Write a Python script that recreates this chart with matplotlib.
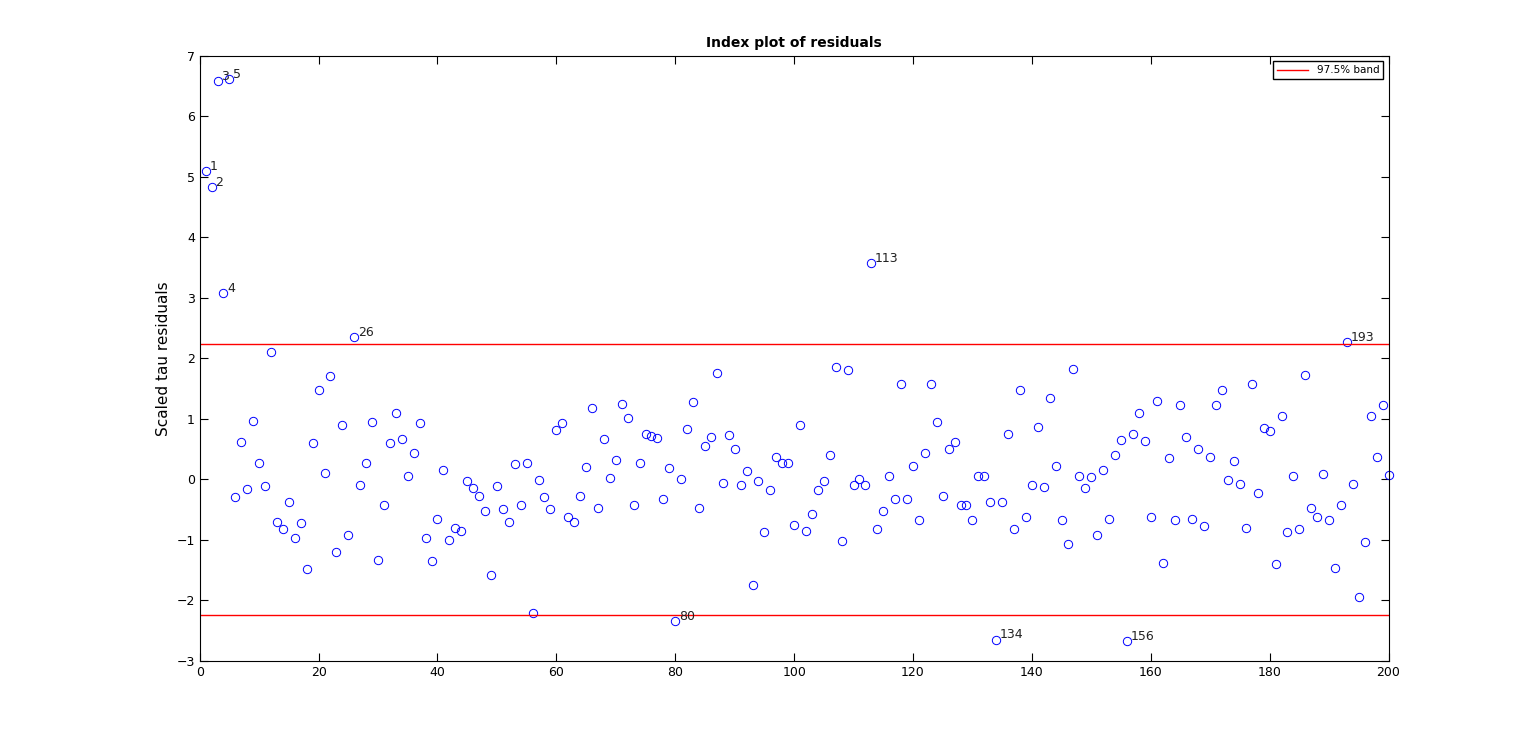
import numpy as np
import matplotlib.pyplot as plt

resid = [5.1, 4.83, 6.58, 3.08, 6.62, -0.3, 0.62, -0.17, 0.97, 0.26,
         -0.12, 2.1, -0.7, -0.83, -0.38, -0.98, -0.73, -1.48, 0.6, 1.48,
         0.1, 1.7, -1.2, 0.9, -0.93, 2.35, -0.1, 0.27, 0.95, -1.33,
         -0.43, 0.6, 1.1, 0.66, 0.05, 0.43, 0.93, -0.98, -1.35, -0.65,
         0.16, -1.0, -0.8, -0.85, -0.03, -0.15, -0.27, -0.52, -1.58, -0.12,
         -0.5, -0.7, 0.25, -0.43, 0.27, -2.22, -0.02, -0.3, -0.5, 0.82,
         0.93, -0.63, -0.7, -0.28, 0.2, 1.17, -0.47, 0.67, 0.02, 0.32,
         1.25, 1.02, -0.42, 0.26, 0.75, 0.72, 0.68, -0.33, 0.18, -2.35,
         0.0, 0.83, 1.28, -0.47, 0.55, 0.7, 1.76, -0.07, 0.73, 0.5,
         -0.1, 0.13, -1.75, -0.03, -0.88, -0.18, 0.37, 0.26, 0.27, -0.75,
         0.9, -0.85, -0.57, -0.18, -0.03, 0.4, 1.85, -1.02, 1.8, -0.1,
         0.0, -0.1, 3.57, -0.83, -0.52, 0.05, -0.33, 1.57, -0.33, 0.22,
         -0.68, 0.43, 1.57, 0.95, -0.28, 0.5, 0.62, -0.42, -0.42, -0.68,
         0.05, 0.05, -0.38, -2.65, -0.38, 0.75, -0.82, 1.48, -0.63, -0.1,
         0.87, -0.13, 1.35, 0.22, -0.68, -1.07, 1.82, 0.05, -0.15, 0.03,
         -0.93, 0.15, -0.65, 0.4, 0.65, -2.67, 0.75, 1.1, 0.63, -0.62,
         1.3, -1.38, 0.35, -0.68, 1.22, 0.7, -0.65, 0.5, -0.77, 0.37,
         1.23, 1.47, -0.02, 0.3, -0.08, -0.8, 1.57, -0.22, 0.85, 0.8,
         -1.4, 1.05, -0.88, 0.06, -0.82, 1.72, -0.48, -0.63, 0.08, -0.68,
         -1.47, -0.43, 2.27, -0.08, -1.95, -1.03, 1.05, 0.37, 1.22, 0.07]
band = 2.24
resid = np.array(resid)
idx = np.arange(1, len(resid) + 1)

fig = plt.figure(figsize=(15.36, 7.44), dpi=100)
ax = fig.add_axes([0.130, 0.112, 0.774, 0.813])

ax.plot(idx, resid, 'o', mfc='none', mec='blue', ms=6, mew=0.7, clip_on=False)
ax.axhline(band, color='red', lw=1, label='97.5% band')
ax.axhline(-band, color='red', lw=1)

# label the points outside the band
for i, r in zip(idx, resid):
    if abs(r) > band:
        ax.text(i + 0.6, r + 0.02, str(i), fontsize=9, color='#222222')

ax.set_xlim(0, 200)
ax.set_ylim(-3, 7)
ax.set_xticks(range(0, 201, 20))
ax.set_yticks(range(-3, 8))
ax.tick_params(direction='in', top=True, right=True, labelsize=9, length=6)
ax.set_ylabel('Scaled tau residuals', fontsize=11)
ax.set_title('Index plot of residuals', fontsize=10, fontweight='bold')
ax.legend(loc='upper right', fontsize=7.5, fancybox=False, edgecolor='black',
          framealpha=1, handlelength=3)

fig.savefig('out.png')
